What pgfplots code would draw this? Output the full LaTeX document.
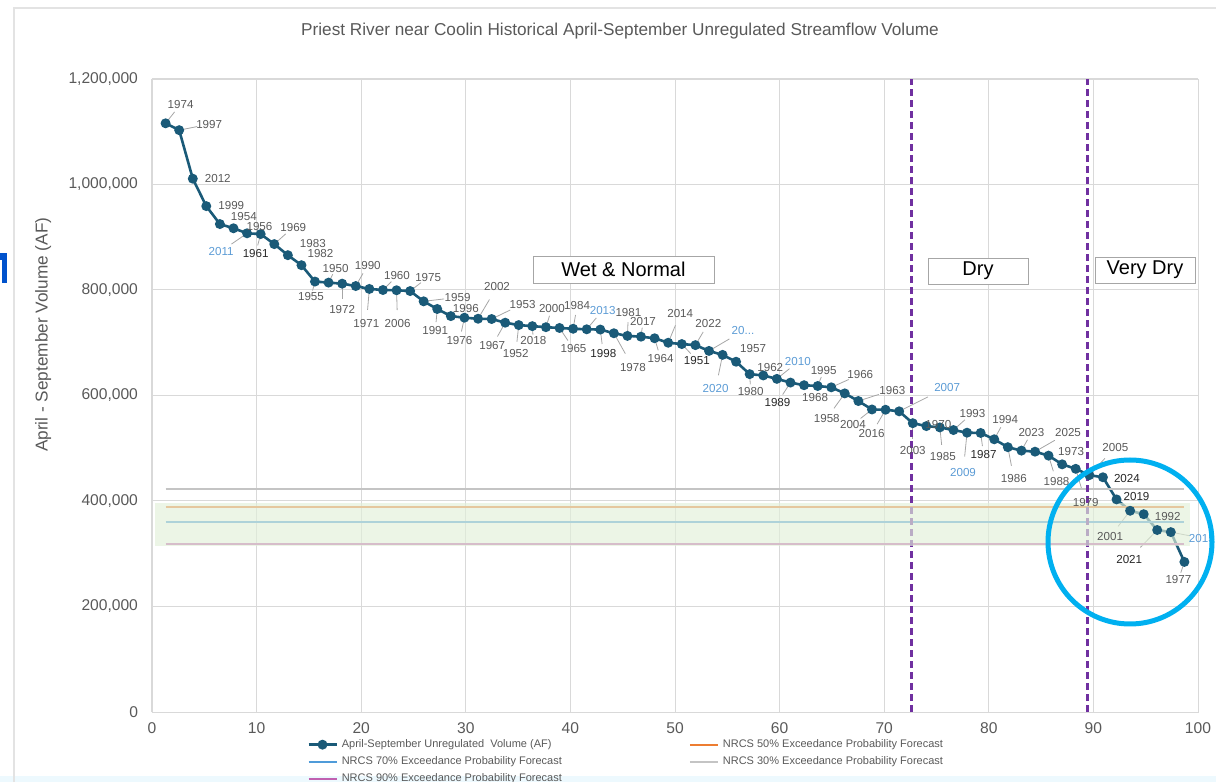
\documentclass[border=0pt]{standalone}
\usepackage{pgfplots}
\pgfplotsset{compat=1.18}
\usepackage{pgfplotstable}
\usepackage{fontspec}
\setmainfont{Liberation Sans}

\definecolor{flow}{HTML}{1A5A78}
\definecolor{txtgray}{HTML}{595959}
\definecolor{lblg}{HTML}{595959}
\definecolor{lblb}{HTML}{5B9BD5}
\definecolor{lblk}{HTML}{262626}
\definecolor{leader}{HTML}{A6A6A6}
\definecolor{gridgray}{HTML}{D9D9D9}
\definecolor{fc50}{HTML}{ED7D31}
\definecolor{fc70}{HTML}{4F9BD9}
\definecolor{fc30}{HTML}{C4C4C4}
\definecolor{fc90}{HTML}{C060B0}
\definecolor{band}{HTML}{E2F0D9}
\definecolor{drypurple}{HTML}{7030A0}
\definecolor{ring}{HTML}{00B0F0}

% exceedance (%), volume (AF), year, label offset in px (dx right, dy down),
% label colour: 0 grey, 1 blue, 2 black
\pgfplotstableread{
x y yr dx dy c
1.30 1116000 1974 15 -19 0
2.60 1103000 1997 30 -6 0
3.90 1011000 2012 25 0 0
5.19 959000 1999 25 -1 0
6.49 925000 1954 24 -8 0
7.79 917000 1956 26 -2 0
9.09 907500 2011 -26 18 1
10.39 906000 1961 -5 19 2
11.69 887000 1969 19 -17 0
12.99 866000 1983 25 -12 0
14.29 847000 1982 19 -12 0
15.58 816000 1955 -4 15 0
16.88 814000 1950 7 -14 0
18.18 812000 1972 0 26 0
19.48 807500 1990 12 -21 0
20.78 802000 1971 -3 35 0
22.08 800000 1960 14 -14 0
23.38 799500 2006 1 33 0
24.68 798000 1975 18 -14 0
25.97 778500 1959 34 -4 0
27.27 764000 1991 -2 22 0
28.57 750500 1996 15 -8 0
29.87 747500 1976 -5 23 0
31.17 745500 2002 19 -32 0
32.47 745000 1953 31 -15 0
33.77 738000 1967 -13 23 0
35.06 733500 1952 -3 28 0
36.36 731500 2018 1 14 0
37.66 729500 2000 6 -19 0
38.96 728000 1965 14 21 0
40.26 726500 1984 4 -23 0
41.56 725500 2013 16 -19 1
42.86 725000 1998 3 24 2
44.16 718000 1978 19 34 0
45.45 713000 1981 1 -23 0
46.75 711500 2017 2 -15 0
48.05 708500 1964 6 20 0
49.35 700000 2014 12 -29 0
50.65 697500 1951 15 16 2
51.95 695500 2022 13 -22 0
53.25 684500 20... 34 -20 1
54.55 677000 2020 -7 34 1
55.84 664000 1957 17 -13 0
57.14 640500 1980 1 17 0
58.44 638000 1962 7 -8 0
59.74 631500 2010 21 -17 1
61.04 624500 1989 -13 20 2
62.34 619500 1968 11 12 0
63.64 618000 1995 6 -15 0
64.94 615500 1966 29 -13 0
66.23 604000 1958 -18 25 0
67.53 589500 1963 34 -11 0
68.83 573500 2004 -19 15 0
70.13 573000 2016 -14 24 0
71.43 570000 2007 48 -24 1
72.73 547500 2003 0 27 0
74.03 542000 1970 12 -2 0
75.32 539500 1985 3 29 0
76.62 534500 1993 19 -17 0
77.92 529500 2009 -4 40 1
79.22 529000 1987 3 22 2
80.52 517000 1994 11 -20 0
81.82 502000 1986 6 31 0
83.12 495500 2023 10 -18 0
84.42 493500 2025 33 -19 0
85.71 486000 1988 8 26 0
87.01 469500 1973 9 -13 0
88.31 461000 1979 10 34 0
89.61 449000 2005 26 -28 0
90.91 445000 2024 24 1 2
92.21 403000 2019 20 -3 2
93.51 381500 2001 -20 26 0
94.81 375000 1992 24 2 0
96.10 345000 2021 -28 29 2
97.40 341000 2015 31 6 1
98.70 284500 1977 -6 18 0
}\flowdata

\pgfplotsset{
  yearlabels/.style={draw=none, mark=none, forget plot,
    point meta=explicit symbolic,
    visualization depends on={\thisrow{dx} \as \ldx},
    visualization depends on={\thisrow{dy} \as \ldy},
    restrict expr to domain={\thisrow{c}}{#1:#1},
    nodes near coords,
    nodes near coords style={anchor=center, inner sep=0pt,
      font=\fontsize{5.8}{6}\selectfont,
      xshift={\ldx*0.5pt}, yshift={-\ldy*0.5pt}}},
}

\begin{document}
\begin{tikzpicture}
\useasboundingbox (0,0) rectangle (608pt,391pt);
\fill[cyan!7] (0,0) rectangle (608pt,3pt);
\draw[gray!22, line width=0.6pt] (7pt,0pt) -- (7pt,387pt) -- (610pt,387pt);
\fill[blue!60!cyan!80!black] (1pt,249.5pt) rectangle (3.5pt,264.5pt);
\fill[blue!60!cyan!80!black] (0pt,261pt) rectangle (3.5pt,264.5pt);

\node[font=\fontsize{8.6}{10}\selectfont, text=txtgray] at (310pt,375.5pt)
  {Priest River near Coolin Historical April-September Unregulated Streamflow Volume};

\begin{axis}[
    at={(76pt,35pt)}, anchor=south west,
    scale only axis,
    width=523pt, height=316.5pt,
    xmin=0, xmax=100,
    ymin=0, ymax=1200000,
    xtick={0,10,20,30,40,50,60,70,80,90,100},
    ytick={0,200000,400000,600000,800000,1000000,1200000},
    scaled y ticks=false,
    yticklabel style={/pgf/number format/fixed, /pgf/number format/1000 sep={,}, xshift=-3.5pt},
    xticklabel style={yshift=-2pt},
    /pgf/number format/assume math mode=true,
    ticklabel style={font=\fontsize{7.8}{9}\selectfont, text=txtgray},
    grid=major,
    major grid style={gridgray, line width=0.5pt},
    axis line style={gridgray},
    tick style={draw=none},
    clip=false,
    ylabel={April - September Volume (AF)},
    ylabel style={at={(axis description cs:-0.104,0.596)}, anchor=center,
      font=\fontsize{8.6}{10}\selectfont, text=txtgray},
    legend style={at={(axis description cs:0.148,-0.036)}, anchor=north west,
      draw=none, fill=none, inner sep=0pt, text=txtgray,
      font=\fontsize{5.5}{6}\selectfont, row sep=-1pt,
      /tikz/every even column/.append style={column sep=61.5pt}},
    legend columns=2,
    legend cell align=left,
    legend image code/.code={\draw[mark repeat=2,mark phase=2,#1]
      plot coordinates {(0pt,0pt) (7pt,0pt) (14pt,0pt)};},
  ]

  % leader lines from the points toward their year labels
  \addplot[leader, line width=0.4pt, forget plot,
      restrict expr to domain={max(abs(\thisrow{dy}),0.5*abs(\thisrow{dx}))}{14:200},
      quiver={u={\thisrow{dx}*0.0574}, v={-\thisrow{dy}*1137.4}}]
    table[x=x, y=y] {\flowdata};

  \addplot[flow, line width=1.3pt, mark=*, mark size=1.8pt,
      mark options={fill=flow, draw=flow}]
    table[x=x, y=y] {\flowdata};
  \addlegendentry{April-September Unregulated\ \ Volume (AF)}

  \addplot[fc50, line width=1pt] coordinates {(1.30,389000) (98.70,389000)};
  \addlegendentry{NRCS 50\% Exceedance Probability Forecast}

  \addplot[fc70, line width=1pt] coordinates {(1.30,360000) (98.70,360000)};
  \addlegendentry{NRCS 70\% Exceedance Probability Forecast}

  \addplot[fc30, line width=1pt] coordinates {(1.30,423000) (98.70,423000)};
  \addlegendentry{NRCS 30\% Exceedance Probability Forecast}

  \addplot[fc90, line width=1pt] coordinates {(1.30,318500) (98.70,318500)};
  \addlegendentry{NRCS 90\% Exceedance Probability Forecast}

  % year labels, one pass per label colour
  \addplot[yearlabels=0, nodes near coords style={text=lblg}]
    table[x=x, y=y, meta=yr] {\flowdata};
  \addplot[yearlabels=1, nodes near coords style={text=lblb}]
    table[x=x, y=y, meta=yr] {\flowdata};
  \addplot[yearlabels=2, nodes near coords style={text=lblk}]
    table[x=x, y=y, meta=yr] {\flowdata};

  % dry / very dry thresholds
  \addplot[drypurple, line width=1.4pt, dash pattern=on 3.5pt off 2pt, forget plot]
    coordinates {(72.6,0) (72.6,1200000)};
  \addplot[drypurple, line width=1.4pt, dash pattern=on 3.5pt off 2pt, forget plot]
    coordinates {(89.4,0) (89.4,1200000)};

  % forecast range band, laid over the series
  \addplot[draw=none, fill=band, fill opacity=0.65, forget plot]
    coordinates {(0.3,315000) (99.2,315000) (99.2,396000) (0.3,396000)};
\end{axis}

\tikzset{zone/.style={draw=gray!70, fill=white, inner sep=0pt,
  font=\fontsize{10}{12}\selectfont}}
\node[zone, minimum width=90.5pt, minimum height=13.5pt] at (311.75pt,256.25pt) {Wet \& Normal};
\node[zone, minimum width=50pt, minimum height=13pt] at (489pt,255.5pt) {Dry};
\node[zone, minimum width=50pt, minimum height=13pt] at (572.5pt,256pt) {Very Dry};

\draw[ring, line width=2.5pt] (565pt,120pt) circle (41pt);
\end{tikzpicture}
\end{document}
